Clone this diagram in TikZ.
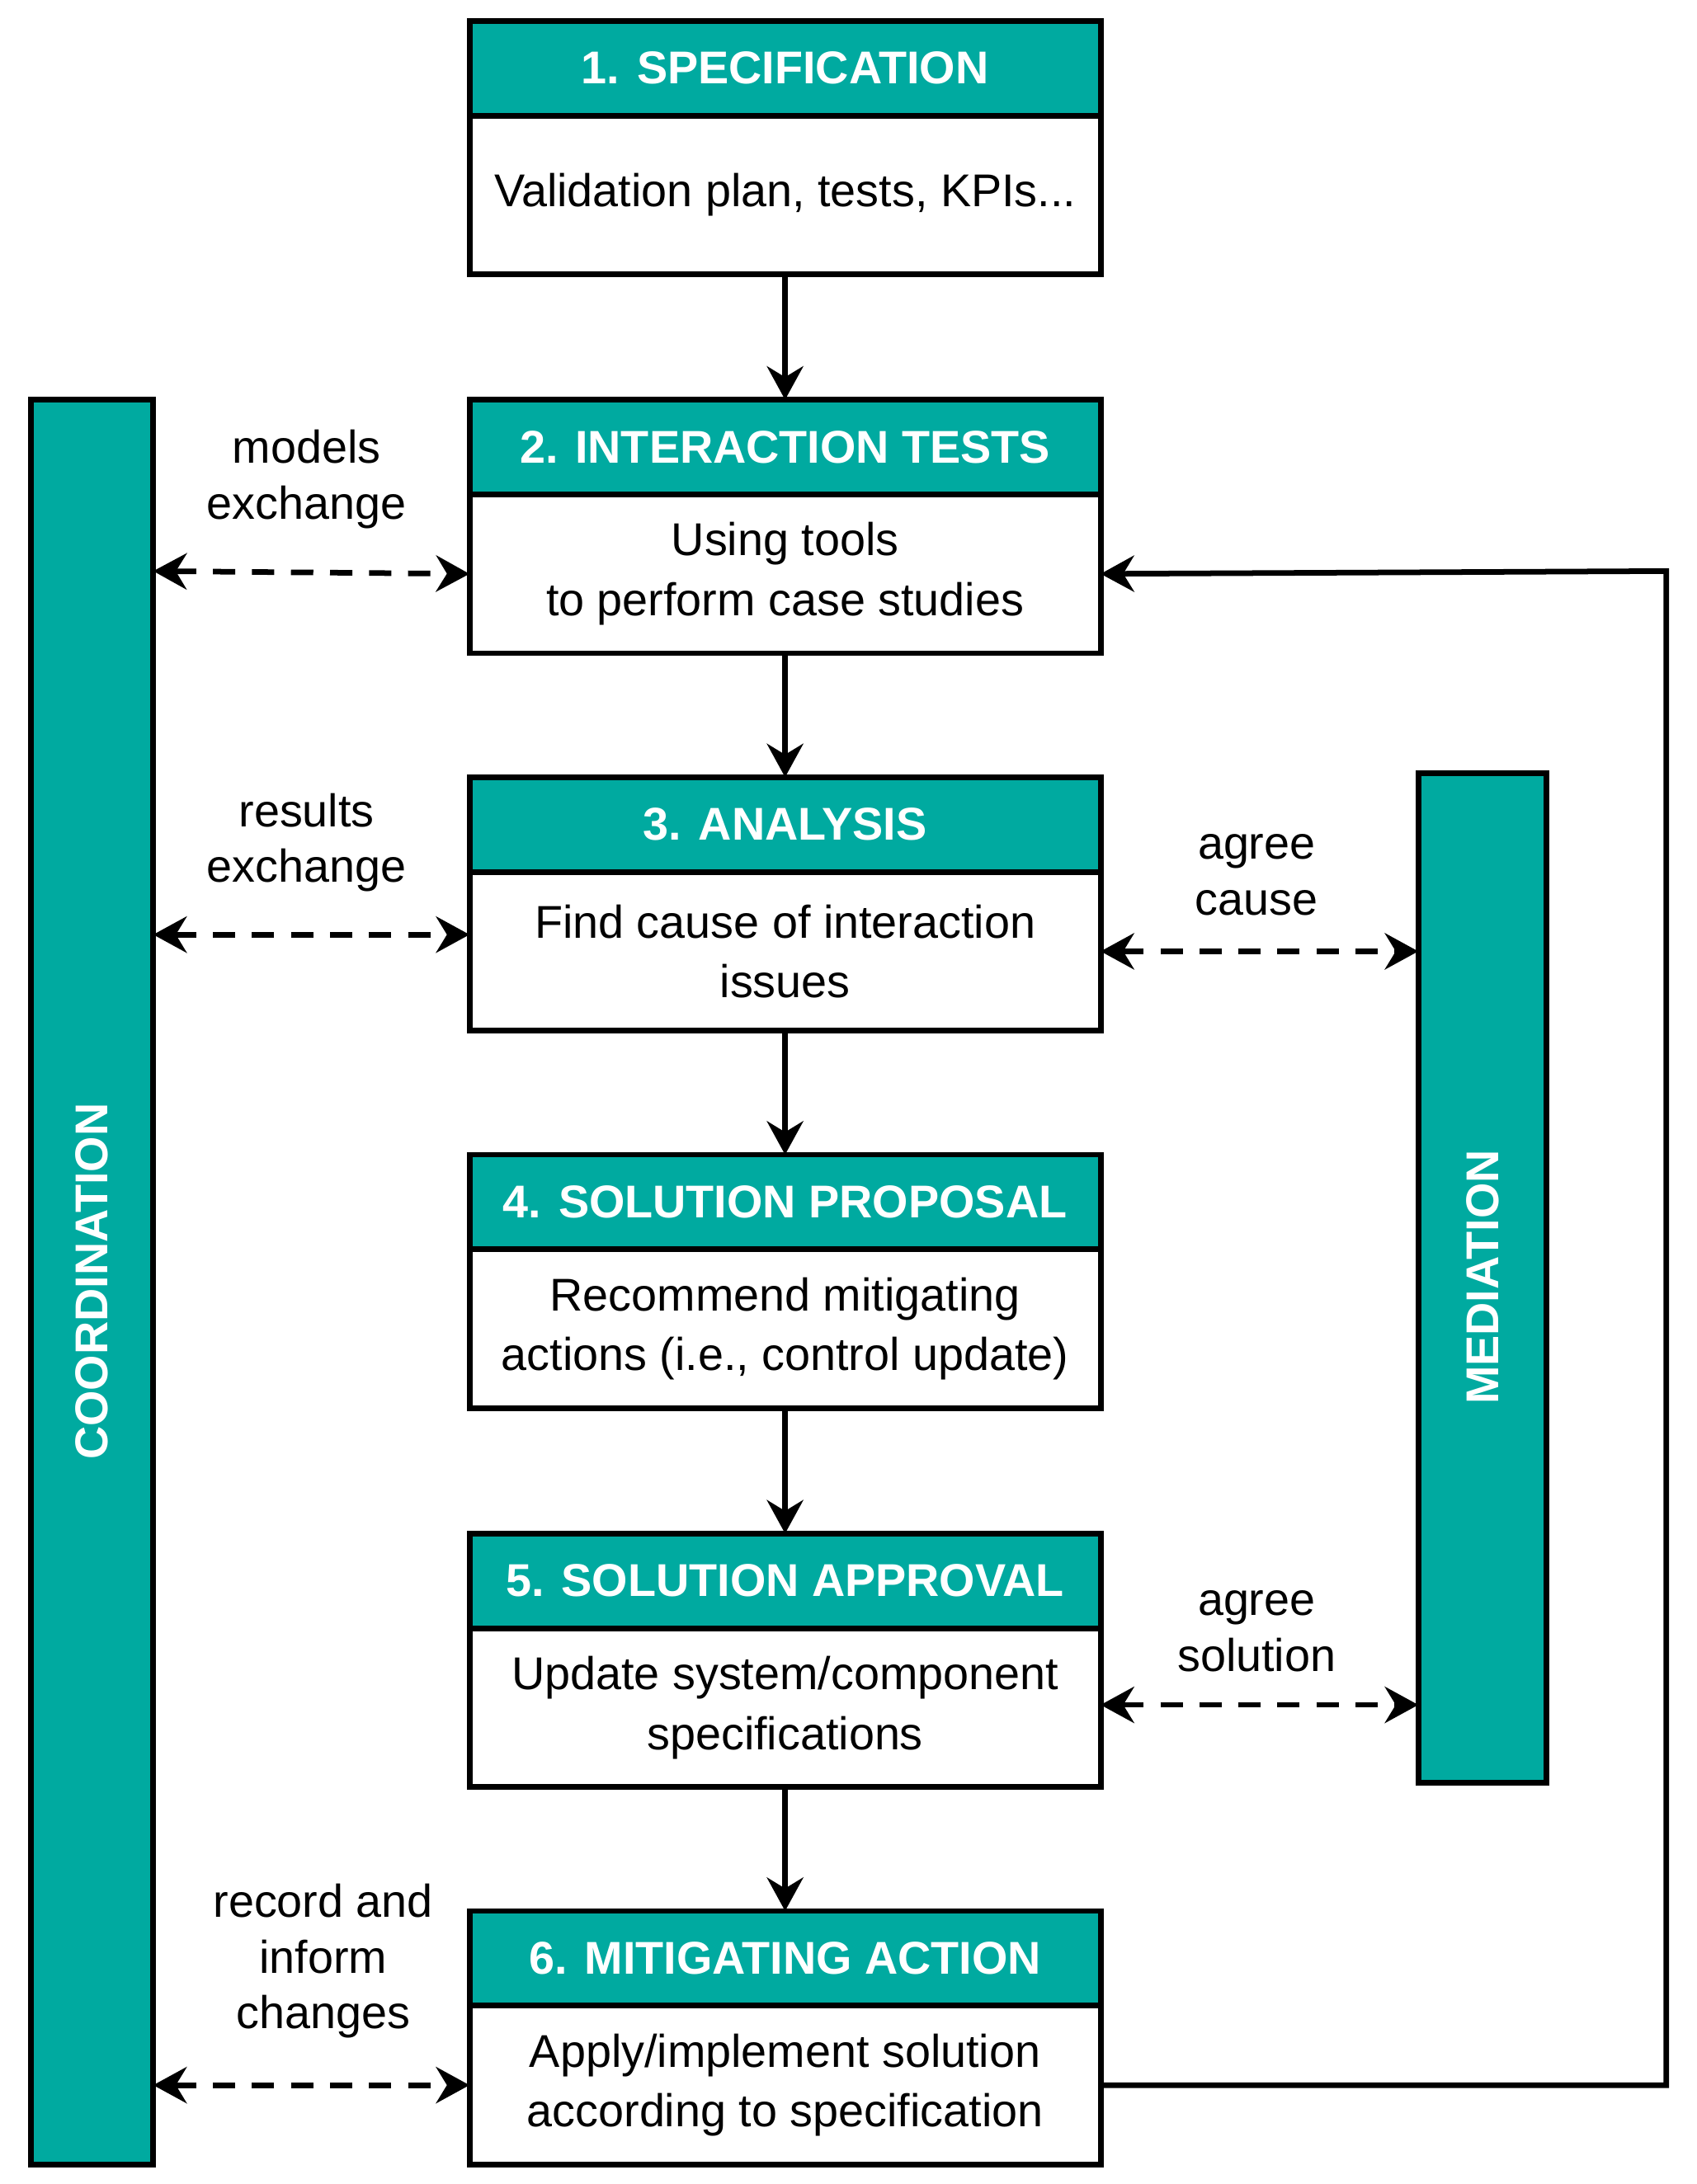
\documentclass[tikz,border=0pt]{standalone}
\usepackage{fontspec}
\setmainfont{Liberation Sans}
\usetikzlibrary{arrows.meta}
\definecolor{teal1}{RGB}{0,170,160}
\begin{document}
\begin{tikzpicture}[x=1pt,y=-1pt,
  hdr/.style={draw=black,line width=4pt,fill=teal1,text=white,font=\fontsize{33}{40}\selectfont\bfseries},
  bdy/.style={draw=black,line width=4pt,fill=white,font=\fontsize{33}{43}\selectfont},
  bar/.style={draw=black,line width=4pt,fill=teal1},
  arr/.style={line width=4pt,-{Stealth[length=24pt,width=26pt]}},
  darr/.style={line width=4pt,dash pattern=on 16pt off 12pt,{Stealth[length=24pt,width=26pt]}-{Stealth[length=24pt,width=26pt]}},
  lbl/.style={font=\fontsize{33}{40}\selectfont,align=center}]
\useasboundingbox (0,0) rectangle (1218,1568);
\foreach \n/\t/\h/\b in {1/{1. SPECIFICATION}/15/{Validation plan, tests, KPIs...},
  2/{2. INTERACTION TESTS}/287/{Using tools\\to perform case studies},
  3/{3. ANALYSIS}/558/{Find cause of interaction\\issues},
  4/{4. SOLUTION PROPOSAL}/829/{Recommend mitigating\\actions (i.e., control update)},
  5/{5. SOLUTION APPROVAL}/1101/{Update system/component\\specifications},
  6/{6. MITIGATING ACTION}/1372/{Apply/implement solution\\according to specification}}{
  \draw[hdr] (337,\h) rectangle (790,\h+68);
  \node[text=white,font=\fontsize{33}{40}\selectfont\bfseries] (h\n) at (563.5,\h+34) {\t};
  \draw[bdy] (337,\h+68) rectangle (790,\h+182);
  \node[font=\fontsize{33}{43}\selectfont,align=center] (b\n) at (563.5,\h+125) {\b};
  \coordinate (top\n) at (563.5,\h);
  \coordinate (bot\n) at (563.5,\h+182);
  \coordinate (L\n) at (337,\h+125);
  \coordinate (R\n) at (790,\h+125);
}
\draw[bar] (22,287) rectangle (110,1554);
\node[rotate=90,text=white,font=\fontsize{33}{40}\selectfont\bfseries] (coord) at (66,920) {COORDINATION};
\draw[bar] (1018,555) rectangle (1110,1280);
\node[rotate=90,text=white,font=\fontsize{33}{40}\selectfont\bfseries] (med) at (1064,917) {MEDIATION};
\foreach \a/\b in {1/2,2/3,3/4,4/5,5/6}{\draw[arr] (bot\a) -- (top\b);}
\coordinate (c1) at (110,410); \coordinate (c2) at (110,671); \coordinate (c3) at (110,1497);
\coordinate (m1) at (1018,683); \coordinate (m2) at (1018,1224);
\draw[darr] (c1) -- (L2);
\draw[darr] (c2) -- (337,671);
\draw[darr] (c3) -- (L6);
\draw[darr] (790,683) -- (m1);
\draw[darr] (790,1224) -- (m2);
\node[lbl] (l1) at (220,344) {models\\exchange};
\node[lbl] (l2) at (220,605) {results\\exchange};
\node[lbl] (l3) at (232,1408) {record and\\inform\\changes};
\node[lbl] (l4) at (902,628) {agree\\cause};
\node[lbl] (l5) at (902,1171) {agree\\solution};
\coordinate (f1) at (1196,1497); \coordinate (f2) at (1196,410);
\draw[arr] (R6) -- (f1) -- (f2) -- (R2);
\end{tikzpicture}
\end{document}
